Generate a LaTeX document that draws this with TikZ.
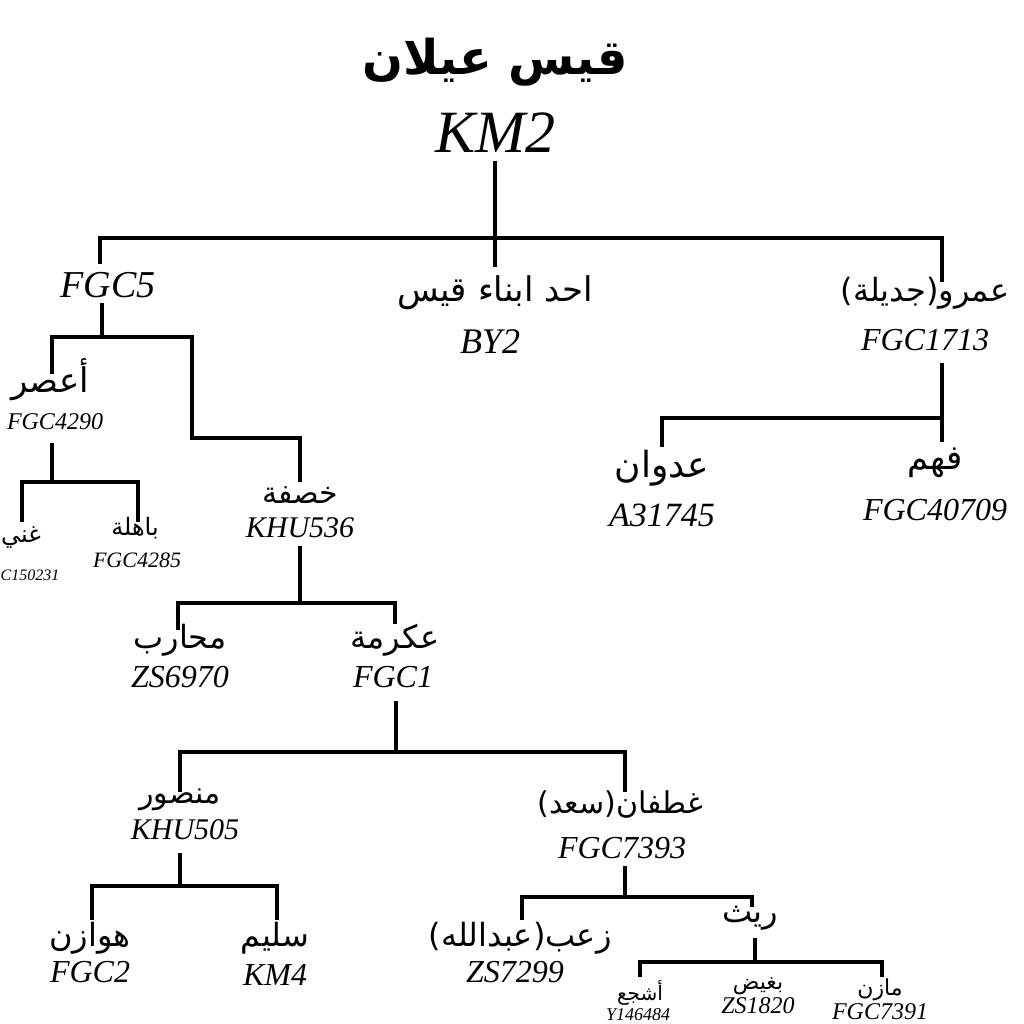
\documentclass[tikz,border=0pt]{standalone}
\usepackage{fontspec}
\setmainfont{Liberation Serif}
\newfontfamily\arabicfont[Script=Arabic]{DejaVu Sans}
\TeXXeTstate=1
\tikzset{lbl/.style={inner sep=0pt,anchor=center},ln/.style={line width=4pt,line cap=rect}}
\newcommand{\ar}[5]{\node[lbl] (#1) at (#2,#3) {\fontsize{#4}{#4}\selectfont\arabicfont\beginR #5\endR};}
\newcommand{\cd}[5]{\node[lbl] (#1) at (#2,#3) {\fontsize{#4}{#4}\selectfont\itshape #5};}
\begin{document}
\begin{tikzpicture}[x=1pt,y=-1pt]
\useasboundingbox (0,0) rectangle (1024,1024);
\ar{qa}{495}{62}{48}{\bfseries قيس عيلان}
\cd{km2}{495}{133}{60}{KM2}
\cd{fgc5}{108}{285}{38}{FGC5}
\ar{ahad}{495}{293}{34}{احد ابناء قيس}
\cd{by2}{490}{342}{36}{BY2}
\ar{amr}{925}{293}{32}{عمرو(جديلة)}
\cd{f1713}{925}{340}{32}{FGC1713}
\ar{asr}{50}{380}{34}{أعصر}
\cd{f4290}{55}{422}{24}{FGC4290}
\ar{ghani}{21}{538}{24}{غني}
\cd{c150}{30}{575}{16}{C150231}
\ar{bahila}{135}{528}{24}{باهلة}
\cd{f4285}{137}{560}{22}{FGC4285}
\ar{khasafa}{300}{495}{30}{خصفة}
\cd{khu536}{300}{528}{30}{KHU536}
\ar{muharib}{180}{640}{32}{محارب}
\cd{zs6970}{180}{677}{32}{ZS6970}
\ar{ikrima}{395}{640}{32}{عكرمة}
\cd{fgc1}{393}{677}{32}{FGC1}
\ar{mansur}{180}{800}{30}{منصور}
\cd{khu505}{185}{830}{30}{KHU505}
\ar{ghatafan}{620}{805}{30}{غطفان(سعد)}
\cd{f7393}{622}{848}{32}{FGC7393}
\ar{hawazin}{90}{938}{32}{هوازن}
\cd{fgc2}{90}{972}{32}{FGC2}
\ar{sulaym}{275}{938}{32}{سليم}
\cd{km4}{275}{975}{32}{KM4}
\ar{zaab}{520}{938}{32}{زعب(عبدالله)}
\cd{zs7299}{515}{972}{32}{ZS7299}
\ar{rayth}{750}{918}{32}{ريث}
\ar{ashja}{640}{993}{20}{أشجع}
\cd{y146}{638}{1015}{18}{Y146484}
\ar{baghid}{758}{986}{22}{بغيض}
\cd{zs1820}{758}{1006}{24}{ZS1820}
\ar{mazin}{880}{990}{22}{مازن}
\cd{f7391}{880}{1012}{24}{FGC7391}
\ar{adwan}{662}{468}{36}{عدوان}
\cd{a31745}{662}{515}{34}{A31745}
\ar{fahm}{935}{463}{34}{فهم}
\cd{f40709}{935}{510}{32}{FGC40709}
% connectors
\draw[ln] (495,163) -- (495,238);
\draw[ln] (100,262) -- (100,238) -- (942,238) -- (942,280);
\draw[ln] (495,238) -- (495,265);
\draw[ln] (102,305) -- (102,337);
\draw[ln] (52,372) -- (52,337) -- (192,337) -- (192,438) -- (300,438) -- (300,480);
\draw[ln] (52,445) -- (52,482);
\draw[ln] (22,520) -- (22,482) -- (138,482) -- (138,520);
\draw[ln] (300,548) -- (300,603);
\draw[ln] (178,628) -- (178,603) -- (395,603) -- (395,622);
\draw[ln] (396,703) -- (396,752);
\draw[ln] (180,790) -- (180,752) -- (625,752) -- (625,790);
\draw[ln] (180,855) -- (180,886);
\draw[ln] (92,918) -- (92,886) -- (277,886) -- (277,918);
\draw[ln] (625,868) -- (625,897);
\draw[ln] (522,918) -- (522,897) -- (752,897) -- (752,905);
\draw[ln] (755,940) -- (755,962);
\draw[ln] (640,975) -- (640,962) -- (882,962) -- (882,975);
\draw[ln] (942,365) -- (942,418);
\draw[ln] (662,445) -- (662,418) -- (942,418) -- (942,440);
\end{tikzpicture}
\end{document}
